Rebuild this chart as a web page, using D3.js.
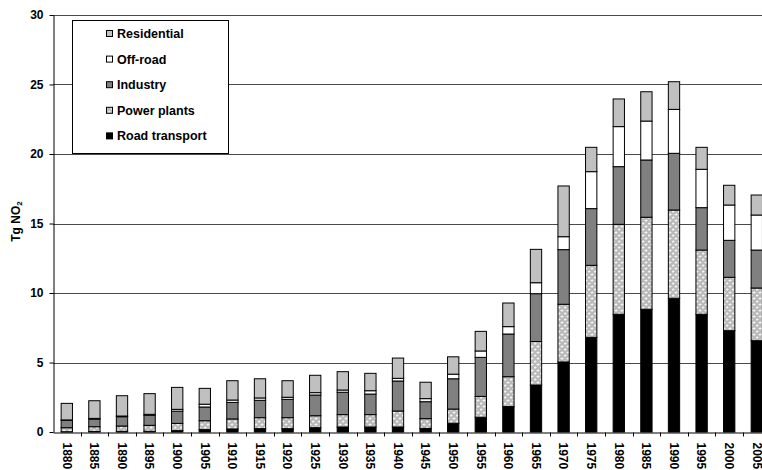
<!DOCTYPE html>
<html>
<head>
<meta charset="utf-8">
<script src="https://cdn.jsdelivr.net/npm/d3@7"></script>
<style>
  html, body { margin: 0; padding: 0; background: #fff; }
  svg { display: block; font-family: "Liberation Sans", Arial, sans-serif; }
</style>
</head>
<body>
<svg id="chart" width="762" height="470"></svg>
<script>
// NO2 emissions by source sector (Tg NO2), five-year steps
const years = [1880, 1885, 1890, 1895, 1900, 1905, 1910, 1915, 1920, 1925, 1930, 1935, 1940,
               1945, 1950, 1955, 1960, 1965, 1970, 1975, 1980, 1985, 1990, 1995, 2000, 2005];

const roadTransport = [0.02, 0.04, 0.05, 0.05, 0.10, 0.17, 0.22, 0.24, 0.24, 0.31, 0.36, 0.36, 0.36,
                       0.26, 0.63, 1.06, 1.83, 3.38, 5.04, 6.81, 8.47, 8.83, 9.62, 8.47, 7.29, 6.57];
const powerPlants   = [0.29, 0.34, 0.38, 0.43, 0.52, 0.64, 0.72, 0.79, 0.79, 0.86, 0.89, 0.89, 1.15,
                       0.70, 1.02, 1.50, 2.15, 3.13, 4.15, 5.18, 6.47, 6.62, 6.35, 4.62, 3.84, 3.79];
const industry      = [0.53, 0.54, 0.67, 0.72, 0.88, 0.99, 1.19, 1.25, 1.32, 1.49, 1.61, 1.48, 2.16,
                       1.22, 2.18, 2.81, 3.07, 3.44, 3.93, 4.08, 4.15, 4.12, 4.08, 3.05, 2.66, 2.73];
const offRoad       = [0.03, 0.06, 0.05, 0.07, 0.13, 0.20, 0.17, 0.17, 0.15, 0.17, 0.16, 0.24, 0.19,
                       0.22, 0.33, 0.46, 0.53, 0.79, 0.93, 2.66, 2.88, 2.80, 3.16, 2.76, 2.54, 2.52];
const residential   = [1.19, 1.27, 1.46, 1.49, 1.58, 1.14, 1.39, 1.38, 1.19, 1.25, 1.32, 1.25, 1.46,
                       1.18, 1.25, 1.41, 1.70, 2.40, 3.65, 1.75, 1.99, 2.11, 1.99, 1.58, 1.42, 1.44];

const seriesKeys   = ["Road transport", "Power plants", "Industry", "Off-road", "Residential"];
const seriesValues = [roadTransport, powerPlants, industry, offRoad, residential];
const yTicks = [0, 5, 10, 15, 20, 25, 30];

const rows = years.map((yr, i) => {
  const r = { year: yr };
  seriesKeys.forEach((k, j) => { r[k] = seriesValues[j][i]; });
  return r;
});

const svg = d3.select("#chart");

// power-plant hatch: grey stipple with small white crosses
const defs = svg.append("defs");
const pat = defs.append("pattern")
  .attr("id", "stipple")
  .attr("patternUnits", "userSpaceOnUse")
  .attr("width", 6).attr("height", 6);
pat.append("rect").attr("width", 6).attr("height", 6).attr("fill", "#b9b9b9");
pat.append("rect").attr("x", 0).attr("y", 0).attr("width", 1).attr("height", 1).attr("fill", "#9a9a9a");
pat.append("rect").attr("x", 3).attr("y", 3).attr("width", 1).attr("height", 1).attr("fill", "#9a9a9a");
pat.append("path").attr("d", "M1.5,3.5h3M3,2v3").attr("stroke", "#f2f2f2").attr("stroke-width", 1)
  .attr("transform", "translate(-2,-2)");
pat.append("path").attr("d", "M1.5,3.5h3M3,2v3").attr("stroke", "#f2f2f2").attr("stroke-width", 1)
  .attr("transform", "translate(1,1)");

const fills = {
  "Road transport": "#000000",
  "Power plants": "url(#stipple)",
  "Industry": "#808080",
  "Off-road": "#ffffff",
  "Residential": "#c0c0c0"
};

const plotLeft = 53, plotTop = 15, plotBottom = 432;
const step = 27.6;
const plotRight = plotLeft + step * years.length;
const fontFam = "'Liberation Sans', Arial, sans-serif";

const x = d3.scaleBand().domain(years).range([plotLeft, plotRight]).paddingInner(0.59).paddingOuter(0.295);
const xCat = d3.scaleBand().domain(years).range([plotLeft, plotRight]).padding(0);
const y = d3.scaleLinear().domain([0, 30]).range([plotBottom, plotTop]);

// horizontal gridlines
svg.append("g").selectAll("line")
  .data(yTicks.filter(d => d > 0))
  .join("line")
  .attr("x1", plotLeft).attr("x2", plotRight)
  .attr("y1", d => Math.round(y(d)) + 0.5).attr("y2", d => Math.round(y(d)) + 0.5)
  .attr("stroke", "#4a4a4a").attr("stroke-width", 1);

// stacked bars
const stacked = d3.stack().keys(seriesKeys)(rows);
svg.append("g").selectAll("g")
  .data(stacked)
  .join("g")
  .attr("fill", d => fills[d.key])
  .selectAll("rect")
  .data(d => d)
  .join("rect")
  .attr("x", d => x(d.data.year))
  .attr("width", x.bandwidth())
  .attr("y", d => y(d[1]))
  .attr("height", d => y(d[0]) - y(d[1]))
  .attr("stroke", "#000")
  .attr("stroke-width", 1);

// y axis
const yAxis = svg.append("g")
  .attr("transform", `translate(${plotLeft + 0.5},0)`)
  .call(d3.axisLeft(y).tickValues(yTicks).tickSize(4).tickPadding(6).tickSizeOuter(0));
yAxis.select(".domain").attr("stroke", "#000");
yAxis.selectAll("line").attr("stroke", "#000");
yAxis.selectAll("text")
  .attr("font-size", 12).attr("font-weight", "bold").attr("fill", "#000")
  .attr("font-family", fontFam);

// x axis: baseline, category boundary ticks, rotated year labels
const xAxis = svg.append("g")
  .attr("transform", `translate(0,${plotBottom + 0.5})`)
  .call(d3.axisBottom(xCat).tickSize(0).tickSizeOuter(0).tickFormat(d3.format("d")));
xAxis.select(".domain").attr("stroke", "#000");
xAxis.selectAll(".tick text")
  .attr("font-size", 12).attr("font-weight", "bold").attr("fill", "#000")
  .attr("font-family", fontFam)
  .attr("text-anchor", "start")
  .attr("y", 0).attr("dy", "0.35em")
  .attr("transform", "translate(0,10) rotate(90)");
xAxis.append("g").selectAll("line")
  .data(years.slice(1))
  .join("line")
  .attr("x1", d => Math.round(xCat(d)) + 0.5).attr("x2", d => Math.round(xCat(d)) + 0.5)
  .attr("y1", 0).attr("y2", 4)
  .attr("stroke", "#000");

// y axis title
const title = svg.append("text")
  .attr("transform", `translate(20,${(plotTop + plotBottom) / 2 - 2}) rotate(-90)`)
  .attr("text-anchor", "middle")
  .attr("font-size", 12).attr("font-weight", "bold");
title.append("tspan").text("Tg NO");
title.append("tspan").attr("font-size", 8).attr("dy", 2).text("2");

// legend
const legend = svg.append("g");
legend.append("rect")
  .attr("x", 72.5).attr("y", 20.5).attr("width", 156).attr("height", 133)
  .attr("fill", "#fff").attr("stroke", "#000");
const legendOrder = ["Residential", "Off-road", "Industry", "Power plants", "Road transport"];
const li = legend.selectAll("g.item")
  .data(legendOrder)
  .join("g")
  .attr("class", "item")
  .attr("transform", (d, i) => `translate(0,${33.5 + i * 25.6})`);
li.append("rect")
  .attr("x", 106.5).attr("y", -3).attr("width", 6).attr("height", 6)
  .attr("fill", d => fills[d]).attr("stroke", "#000");
li.append("text")
  .attr("x", 117).attr("y", 0).attr("dy", "0.36em")
  .attr("font-size", 12.5).attr("font-weight", "bold")
  .text(d => d);
</script>
</body>
</html>
